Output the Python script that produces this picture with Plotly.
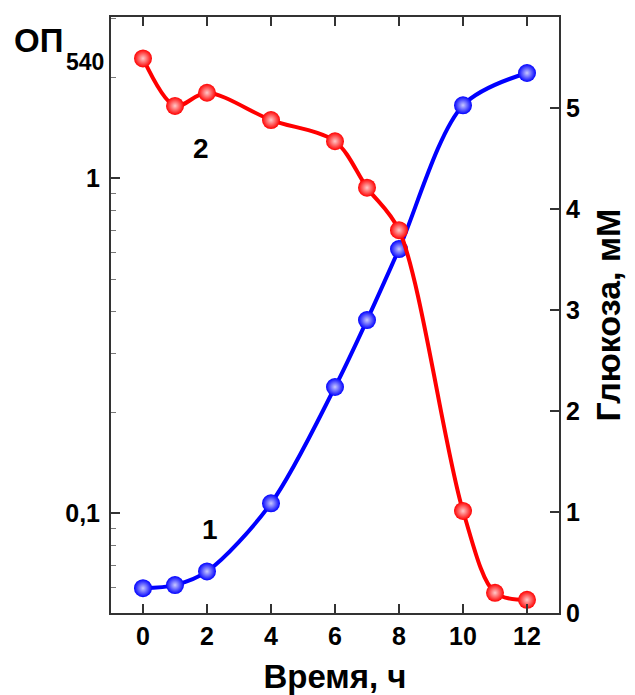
import plotly.graph_objects as go

# Data
time_od = [0, 1, 2, 4, 6, 7, 8, 10, 12]
od540 = [0.0597, 0.061, 0.067, 0.107, 0.238, 0.377, 0.614, 1.65, 2.06]

time_glc = [0, 1, 2, 4, 6, 7, 8, 10, 11, 12]
glucose = [5.49, 5.02, 5.15, 4.88, 4.67, 4.21, 3.79, 1.01, 0.20, 0.13]

x_ticks = [0, 2, 4, 6, 8, 10, 12]
y_ticks = [0.1, 1]
y_ticktext = ["0,1", "1"]
y_minor = [0.05, 0.06, 0.07, 0.08, 0.09, 0.2, 0.3, 0.4, 0.5, 0.6, 0.7, 0.8, 0.9, 2, 3]
y2_ticks = [0, 1, 2, 3, 4, 5]

FONT = "Liberation Sans, Arial, sans-serif"
AXC = "#333333"

fig = go.Figure()

fig.add_trace(go.Scatter(
    x=time_od, y=od540, mode="lines+markers",
    line=dict(color="#0000FF", width=4, shape="spline", smoothing=0.9),
    marker=dict(size=18, color="#0000FF",
                gradient=dict(type="radial", color="#C8C8FF")),
    yaxis="y", showlegend=False, cliponaxis=False,
))

fig.add_trace(go.Scatter(
    x=time_glc, y=glucose, mode="lines+markers",
    line=dict(color="#FF0000", width=4, shape="spline", smoothing=0.9),
    marker=dict(size=18, color="#FF0000",
                gradient=dict(type="radial", color="#FFC8C8")),
    yaxis="y2", showlegend=False, cliponaxis=False,
))

tickfont = dict(family=FONT, size=25, color="black", weight="bold")

fig.update_layout(
    width=635, height=695,
    margin=dict(l=111, r=76, t=17, b=82),
    paper_bgcolor="white", plot_bgcolor="white",
    font=dict(family=FONT, color="black"),
    xaxis=dict(
        range=[-1, 13], tickmode="array", tickvals=x_ticks, automargin=False,
        ticks="inside", ticklen=9, tickwidth=2, tickcolor=AXC,
        showline=True, linecolor=AXC, linewidth=2, mirror="ticks",
        showgrid=False, zeroline=False, tickfont=tickfont,
        title=dict(text="Время, ч", standoff=16,
                   font=dict(family=FONT, size=33, color="black", weight="bold")),
    ),
    yaxis=dict(
        type="log", range=[-1.298, 0.481], automargin=False,
        tickmode="array", tickvals=y_ticks, ticktext=y_ticktext,
        ticks="inside", ticklen=9, tickwidth=1.5, tickcolor=AXC,
        ticklabelstandoff=4,
        minor=dict(ticks="inside", ticklen=5, tickwidth=1, tickcolor="#777777",
                   tickmode="array", tickvals=y_minor, showgrid=False),
        showline=True, linecolor=AXC, linewidth=2,
        showgrid=False, zeroline=False, tickfont=tickfont,
    ),
    yaxis2=dict(
        overlaying="y", side="right", range=[0, 5.9], automargin=False,
        tickmode="array", tickvals=y2_ticks,
        ticks="inside", ticklen=9, tickwidth=1.5, tickcolor=AXC,
        showline=True, linecolor=AXC, linewidth=2,
        showgrid=False, zeroline=False, tickfont=tickfont,
        title=dict(text="Глюкоза, мМ", standoff=17,
                   font=dict(family=FONT, size=34, color="black", weight="bold")),
    ),
    annotations=[
        dict(text="ОП", xref="paper", yref="paper", x=-0.222, y=0.961,
             xanchor="left", yanchor="middle", showarrow=False,
             font=dict(family=FONT, size=33, color="black", weight="bold")),
        dict(text="540", xref="paper", yref="paper", x=-0.106, y=0.924,
             xanchor="left", yanchor="middle", showarrow=False,
             font=dict(family=FONT, size=23, color="black", weight="bold")),
        dict(text="1", x=2.1, y=-1.05, xref="x", yref="y", showarrow=False,
             font=dict(family=FONT, size=28, color="black", weight="bold")),
        dict(text="2", x=1.8, y=4.6, xref="x", yref="y2", showarrow=False,
             font=dict(family=FONT, size=28, color="black", weight="bold")),
    ],
)

fig.write_html("out.html")
